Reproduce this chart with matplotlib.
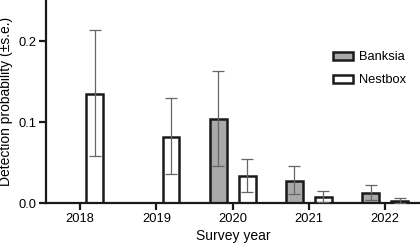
import numpy as np
import matplotlib.pyplot as plt
from matplotlib.patches import Patch

plt.rcParams['font.family'] = ['Liberation Sans', 'DejaVu Sans']

years = [2018, 2019, 2020, 2021, 2022]

banksia = [np.nan, np.nan, 0.104, 0.0275, 0.0127]
banksia_lo = [np.nan, np.nan, 0.046, 0.0115, 0.004]
banksia_hi = [np.nan, np.nan, 0.163, 0.046, 0.022]

nestbox = [0.135, 0.082, 0.0337, 0.0078, 0.003]
nestbox_lo = [0.059, 0.0366, 0.0136, 0.002, 0.0005]
nestbox_hi = [0.214, 0.130, 0.055, 0.015, 0.007]

fig = plt.figure(figsize=(4.2, 2.49), dpi=100)
ax = fig.add_axes([0.109, 0.1835, 0.891, 0.8165])

x = np.arange(len(years))
w = 0.22
off = 0.19

b = np.array(banksia)
n = np.array(nestbox)
berr = [b - np.array(banksia_lo), np.array(banksia_hi) - b]
nerr = [n - np.array(nestbox_lo), np.array(nestbox_hi) - n]

ax.bar(x - off, b, w, color='#a9a9a9', edgecolor='#1a1a1a', linewidth=1.8, zorder=2)
ax.bar(x + off, n, w, color='white', edgecolor='#1a1a1a', linewidth=1.8, zorder=2)
ax.errorbar(x - off, b, yerr=berr, fmt='none', ecolor='#666666', elinewidth=0.9,
            capsize=4, capthick=0.9, zorder=3)
ax.errorbar(x + off, n, yerr=nerr, fmt='none', ecolor='#666666', elinewidth=0.9,
            capsize=4, capthick=0.9, zorder=3)

ax.set_xlim(-0.45, len(years) - 1 + 0.455)
ax.set_ylim(0, 0.251)
ax.set_xticks(x)
ax.set_xticklabels([str(y) for y in years])
ax.set_yticks([0.0, 0.1, 0.2])
ax.set_yticklabels(['0.0', '0.1', '0.2'])

for s in ['top', 'right']:
    ax.spines[s].set_visible(False)
for s in ['left', 'bottom']:
    ax.spines[s].set_linewidth(1.6)
    ax.spines[s].set_color('#1a1a1a')
ax.tick_params(axis='both', width=1.6, length=5, color='#1a1a1a', labelsize=9.3, pad=2)

ax.set_xlabel('Survey year', fontsize=10, labelpad=3)
ax.set_ylabel('Detection probability (±s.e.)', fontsize=10, labelpad=4)

handles = [Patch(facecolor='#a9a9a9', edgecolor='#1a1a1a', linewidth=1.8, label='Banksia'),
           Patch(facecolor='white', edgecolor='#1a1a1a', linewidth=1.8, label='Nestbox')]
ax.legend(handles=handles, loc='upper left', bbox_to_anchor=(0.736, 0.805), frameon=False,
          fontsize=9.3, handlelength=1.6, handleheight=0.6, handletextpad=0.45,
          labelspacing=0.85)

fig.savefig('out.png', dpi=100)
